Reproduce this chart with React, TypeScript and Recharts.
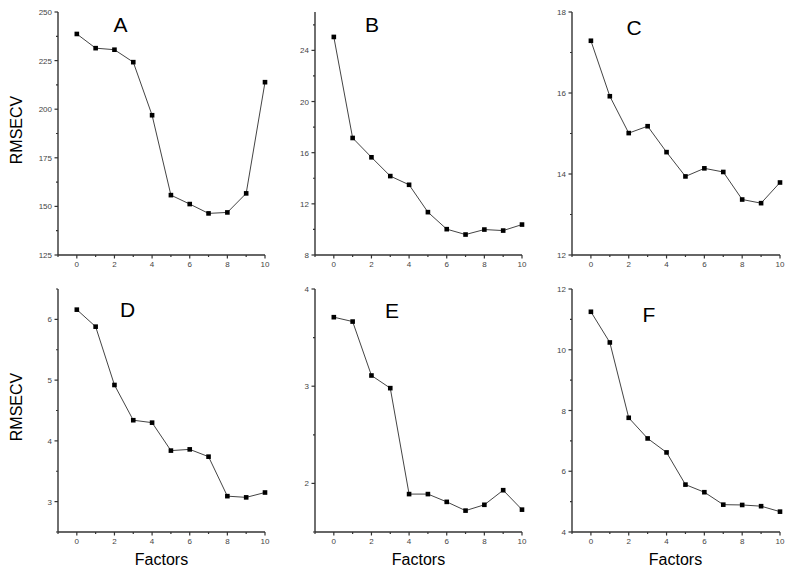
import React from "react";
import { LineChart, Line, XAxis, YAxis } from "recharts";

const factors = [0, 1, 2, 3, 4, 5, 6, 7, 8, 9, 10];
const xTicks = [-1, 0, 1, 2, 3, 4, 5, 6, 7, 8, 9, 10];
const xMajor = [0, 2, 4, 6, 8, 10];

const seriesA = [238.7, 231.4, 230.6, 224.2, 196.9, 155.8, 151.2, 146.4, 146.9, 156.7, 213.9];
const seriesB = [25.05, 17.15, 15.64, 14.17, 13.49, 11.35, 10.02, 9.6, 9.99, 9.91, 10.38];
const seriesC = [17.29, 15.92, 15.01, 15.18, 14.54, 13.94, 14.14, 14.05, 13.37, 13.28, 13.79];
const seriesD = [6.16, 5.88, 4.92, 4.34, 4.3, 3.84, 3.86, 3.74, 3.09, 3.07, 3.15];
const seriesE = [3.71, 3.665, 3.11, 2.98, 1.89, 1.89, 1.81, 1.72, 1.78, 1.93, 1.73];
const seriesF = [11.25, 10.24, 7.76, 7.08, 6.62, 5.56, 5.31, 4.9, 4.89, 4.85, 4.67];

const majorA = [125, 150, 175, 200, 225, 250];
const minorA = [137.5, 162.5, 187.5, 212.5, 237.5];
const majorB = [8, 12, 16, 20, 24];
const minorB = [10, 14, 18, 22, 26];
const majorC = [12, 14, 16, 18];
const minorC = [13, 15, 17];
const majorD = [3, 4, 5, 6];
const minorD = [2.5, 3.5, 4.5, 5.5, 6.5];
const majorE = [2, 3, 4];
const minorE = [1.5, 2.5, 3.5];
const majorF = [4, 6, 8, 10, 12];
const minorF = [5, 7, 9, 11];

const FONT = 'Arial, "Liberation Sans", sans-serif';
const AXIS = "#333";

const panels = [
  { name: "A", values: seriesA, domain: [125, 250], major: majorA, minor: minorA, left: 0, top: 0, lx: 120.5, ly: 32 },
  { name: "B", values: seriesB, domain: [8, 27], major: majorB, minor: minorB, left: 257, top: 0, lx: 115, ly: 32 },
  { name: "C", values: seriesC, domain: [12, 18], major: majorC, minor: minorC, left: 514, top: 0, lx: 120, ly: 35 },
  { name: "D", values: seriesD, domain: [2.5, 6.5], major: majorD, minor: minorD, left: 0, top: 277, lx: 127.5, ly: 40 },
  { name: "E", values: seriesE, domain: [1.5, 4], major: majorE, minor: minorE, left: 257, top: 277, lx: 135, ly: 41 },
  { name: "F", values: seriesF, domain: [4, 12], major: majorF, minor: minorF, left: 514, top: 277, lx: 135, ly: 45 },
];

function XTick(props: any) {
  const { x, y, payload } = props;
  const major = xMajor.includes(payload.value);
  return (
    <g>
      <line x1={x} x2={x} y1={y} y2={y + (major ? 3.5 : 2)} stroke={AXIS} strokeWidth={1.2} />
      {major && (
        <text x={x} y={y + 12} textAnchor="middle" fontSize={8} fill="#444" fontFamily={FONT}>
          {payload.value}
        </text>
      )}
    </g>
  );
}

function makeYTick(major: number[]) {
  return function YTick(props: any) {
    const { x, y, payload } = props;
    const isMajor = major.includes(payload.value);
    return (
      <g>
        <line x1={x - (isMajor ? 3.5 : 2)} x2={x} y1={y} y2={y} stroke={AXIS} strokeWidth={1.2} />
        {isMajor && (
          <text x={x - 6} y={y + 3} textAnchor="end" fontSize={8} fill="#444" fontFamily={FONT}>
            {payload.value}
          </text>
        )}
      </g>
    );
  };
}

function Square(props: any) {
  const { cx, cy, index } = props;
  return <rect key={"d" + index} x={cx - 2.3} y={cy - 2.3} width={4.6} height={4.6} fill="#000" />;
}

function Panel({ p }: { p: (typeof panels)[number] }) {
  const bottomRow = p.top > 0;
  const height = bottomRow ? 296 : 277;
  const data = factors.map((f, i) => ({ f, v: p.values[i] }));
  const yTicks = [...p.major, ...p.minor].sort((a, b) => a - b);
  const YTick = makeYTick(p.major);
  return (
    <div style={{ position: "absolute", left: p.left, top: p.top }}>
      <LineChart
        width={p.left === 514 ? 276 : 275}
        height={height}
        data={data}
        margin={{ top: 12, right: 10, left: 0, bottom: 0 }}
      >
        <XAxis
          type="number"
          dataKey="f"
          domain={[-1, 10]}
          ticks={xTicks}
          interval={0}
          height={height - 12 - 243}
          tickSize={0}
          tickMargin={0}
          tickLine={false}
          tick={<XTick />}
          axisLine={{ stroke: AXIS, strokeWidth: 1.4 }}
        />
        <YAxis
          type="number"
          domain={p.domain}
          ticks={yTicks}
          interval={0}
          width={58}
          tickSize={0}
          tickMargin={0}
          tickLine={false}
          tick={<YTick />}
          axisLine={{ stroke: AXIS, strokeWidth: 1.4 }}
          allowDataOverflow
        />
        <Line
          type="linear"
          dataKey="v"
          stroke="#444"
          strokeWidth={1}
          dot={<Square />}
          activeDot={false}
          isAnimationActive={false}
        />
        <text x={p.lx} y={p.ly} textAnchor="middle" fontSize={21} fill="#000" fontFamily={FONT}>
          {p.name}
        </text>
        {p.left === 0 && (
          <text
            x={22}
            y={130}
            transform="rotate(-90, 22, 130)"
            textAnchor="middle"
            fontSize={16}
            fill="#000"
            fontFamily={FONT}
          >
            RMSECV
          </text>
        )}
        {bottomRow && (
          <text x={161.5} y={288} textAnchor="middle" fontSize={16} fill="#000" fontFamily={FONT}>
            Factors
          </text>
        )}
      </LineChart>
    </div>
  );
}

export default function App() {
  return (
    <div
      style={{
        position: "absolute",
        left: 0,
        top: 0,
        width: 790,
        height: 573,
        background: "#fff",
        overflow: "hidden",
      }}
    >
      {panels.map((p) => (
        <Panel key={p.name} p={p} />
      ))}
    </div>
  );
}
